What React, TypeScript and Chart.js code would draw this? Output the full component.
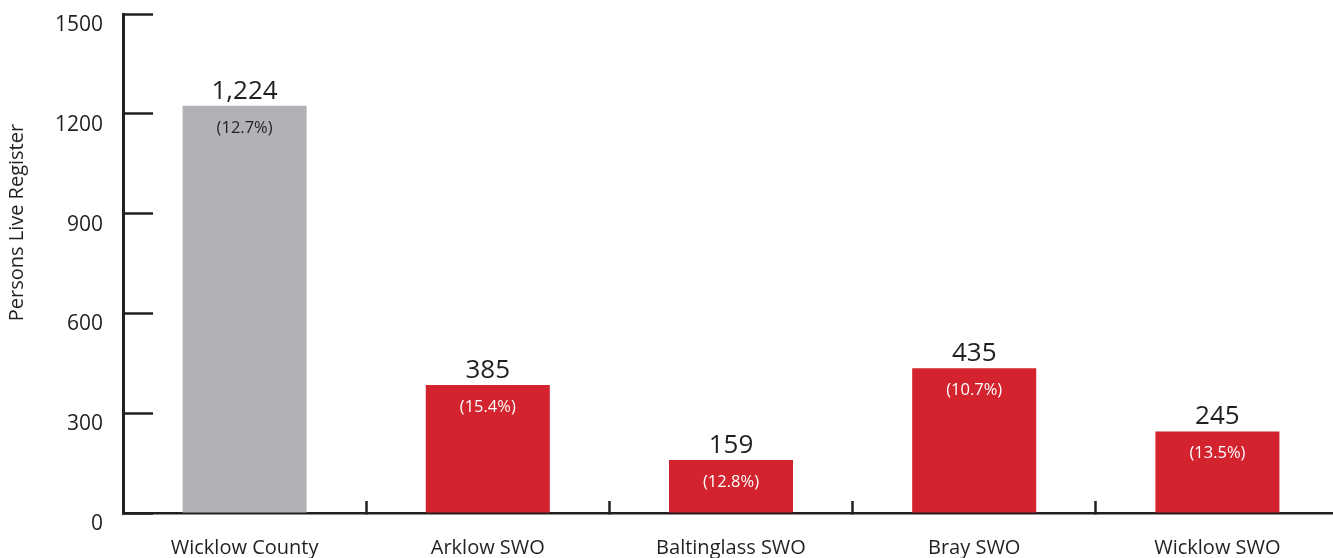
import React, { useEffect, useRef } from "react";
import { Chart, registerables } from "chart.js";

Chart.register(...registerables);

const categories = ["Wicklow County", "Arklow SWO", "Baltinglass SWO", "Bray SWO", "Wicklow SWO"];
const persons = [1224, 385, 159, 435, 245];
const shares = ["(12.7%)", "(15.4%)", "(12.8%)", "(10.7%)", "(13.5%)"];
const valueLabels = ["1,224", "385", "159", "435", "245"];
const barColors = ["#b1b2b6", "#d2232e", "#d2232e", "#d2232e", "#d2232e"];
const shareColors = ["#231f20", "#ffffff", "#ffffff", "#ffffff", "#ffffff"];
const yTitle = "Persons Live Register";

const FONT = "'Open Sans', 'Noto Sans', sans-serif";
const INK = "#231f20";

const labelPlugin = {
  id: "barLabels",
  afterDatasetsDraw(chart: any) {
    const ctx = chart.ctx;
    const meta = chart.getDatasetMeta(0);
    ctx.save();
    meta.data.forEach((bar: any, i: number) => {
      ctx.textAlign = "center";
      ctx.textBaseline = "alphabetic";
      ctx.fillStyle = INK;
      ctx.font = `26px ${FONT}`;
      ctx.fillText(valueLabels[i], bar.x, bar.y - 7);
      ctx.fillStyle = shareColors[i];
      ctx.font = `16.5px ${FONT}`;
      ctx.textBaseline = "middle";
      ctx.fillText(shares[i], bar.x, bar.y + 22);
    });
    const yScale = chart.scales.y;
    ctx.translate(17, yScale.getPixelForValue(873));
    ctx.rotate(-Math.PI / 2);
    ctx.font = `20px ${FONT}`;
    ctx.fillStyle = INK;
    ctx.textAlign = "center";
    ctx.textBaseline = "middle";
    ctx.fillText(yTitle, 0, 0);
    ctx.restore();
  },
};

export default function App() {
  const ref = useRef<HTMLCanvasElement>(null);
  useEffect(() => {
    if (!ref.current) return;
    const chart = new Chart(ref.current, {
      type: "bar",
      data: {
        labels: categories,
        datasets: [
          {
            data: persons,
            backgroundColor: barColors,
            barPercentage: 0.51,
            categoryPercentage: 1,
          },
        ],
      },
      options: {
        animation: false,
        responsive: true,
        maintainAspectRatio: false,
        layout: { padding: { top: 14, right: 0, left: 0, bottom: 0 } },
        plugins: { legend: { display: false }, tooltip: { enabled: false } },
        scales: {
          x: {
            grid: {
              offset: true,
              drawOnChartArea: false,
              drawTicks: true,
              tickLength: -12,
              tickWidth: 2.5,
              tickColor: INK,
            },
            border: { display: true, color: INK, width: 2.5 },
            ticks: {
              color: INK,
              font: { family: FONT, size: 20 },
              padding: 35,
              maxRotation: 0,
              autoSkip: false,
            },
            afterFit: (s: any) => {
              s.height = 45;
              s.paddingLeft = 0;
              s.paddingRight = 0;
            },
          },
          y: {
            min: 0,
            max: 1500,
            grid: {
              drawOnChartArea: false,
              drawTicks: true,
              tickLength: -30,
              tickWidth: 2.5,
              tickColor: INK,
            },
            border: { display: true, color: INK, width: 3 },
            ticks: {
              stepSize: 300,
              color: INK,
              font: { family: FONT, size: 21 },
              padding: 50,
              labelOffset: 11,
              callback: (v: any) => String(v),
            },
            afterFit: (s: any) => {
              s.width = 123;
              s.paddingTop = 0;
              s.paddingBottom = 0;
            },
          },
        },
      },
      plugins: [labelPlugin],
    });
    return () => chart.destroy();
  }, []);
  return (
    <div style={{ position: "absolute", left: 0, top: 0, width: 1333, height: 558, overflow: "hidden", background: "#fff" }}>
      <div style={{ position: "relative", width: 1339, height: 558 }}>
        <canvas ref={ref} />
      </div>
    </div>
  );
}
